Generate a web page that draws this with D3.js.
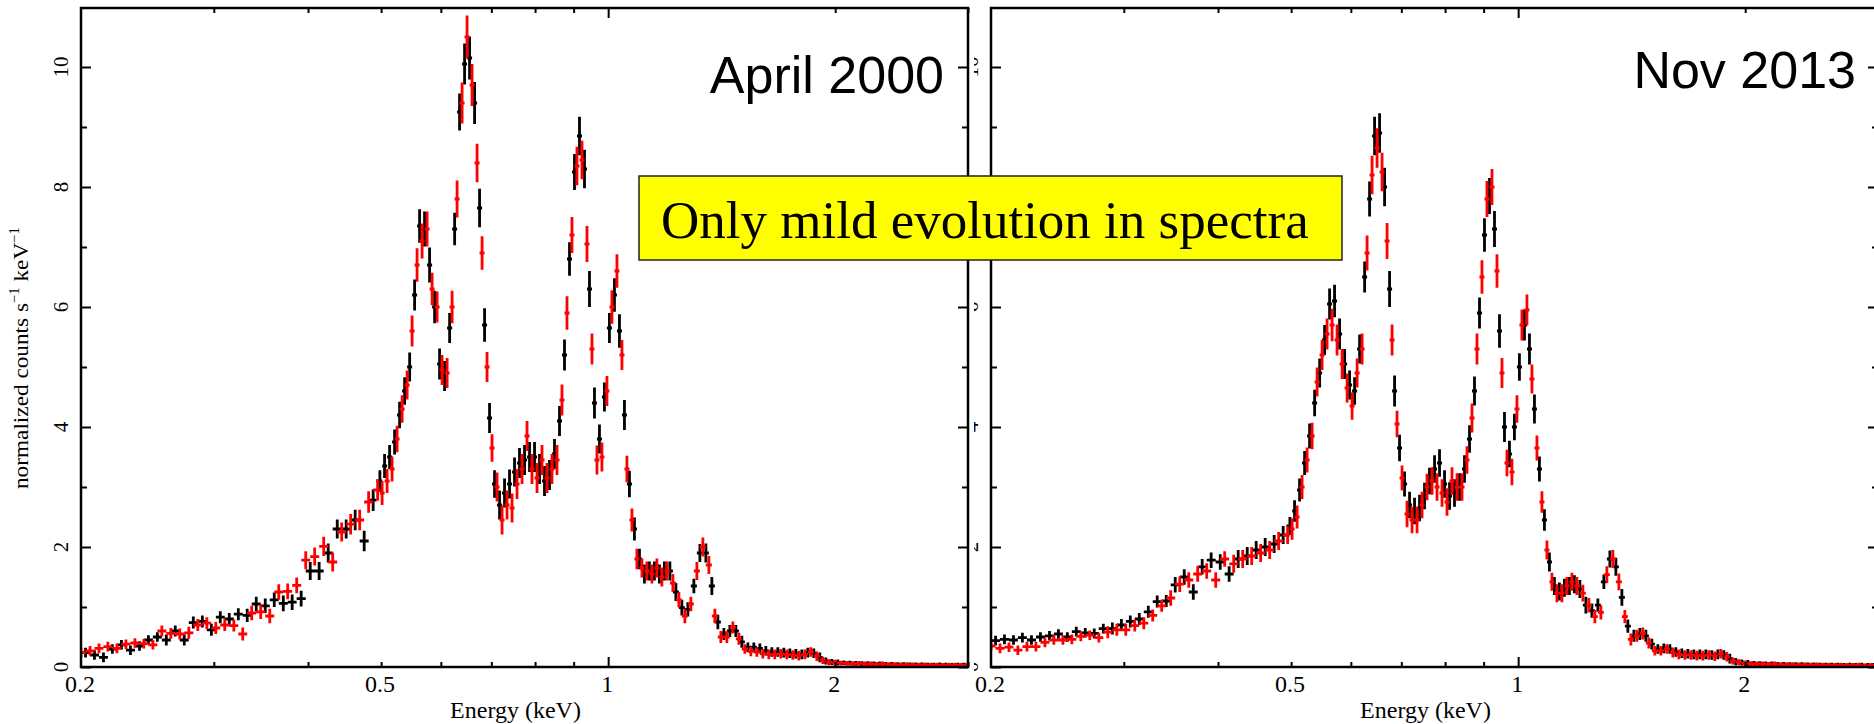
<!DOCTYPE html>
<html>
<head>
<meta charset="utf-8">
<script src="https://cdn.jsdelivr.net/npm/d3@7"></script>
<style>
  body { margin: 0; background: #fff; }
  svg { display: block; }
</style>
</head>
<body>
<svg id="chart" width="1874" height="724"></svg>
<script>
// Channel energies (keV), bin centres of the red spectra
const redEnergyKeV = [
  0.2000,0.2056,0.2113,0.2171,0.2232,0.2294,0.2358,0.2423,0.2491,0.2560,0.2631,0.2704,0.2780,0.2857,0.2937,0.3018,0.3102,0.3189,0.3277,0.3368,0.3462,0.3559,0.3658,0.3759,0.3864,0.3972,0.4082,0.4196,0.4313,0.4433,0.4556,0.4683,0.4813,0.4947,
  0.5015,0.5092,0.5170,0.5250,0.5331,0.5413,0.5496,0.5580,0.5666,0.5753,0.5842,0.5932,0.6023,0.6116,0.6210,0.6305,0.6402,0.6500,0.6600,0.6702,0.6805,0.6909,0.7015,0.7123,0.7233,0.7344,0.7457,0.7571,0.7688,0.7806,0.7926,0.8048,0.8171,0.8297,0.8424,0.8554,0.8685,0.8819,0.8954,0.9092,0.9232,0.9374,0.9518,0.9664,0.9812,0.9963,1.0116,1.0272,1.0430,1.0590,1.0753,1.0918,1.1086,1.1256,1.1429,1.1605,1.1783,1.1964,
  1.2185,1.2410,1.2639,1.2873,1.3111,1.3353,1.3600,1.3851,1.4107,1.4368,1.4633,1.4903,1.5179,1.5459,1.5745,1.6036,1.6332,1.6634,1.6941,1.7254,1.7573,1.7897,1.8228,1.8565,1.8908,1.9257,1.9613,1.9975,2.0344,2.0720,2.1103,2.1493,2.1890,2.2294,2.2706,2.3126,2.3553,2.3988,2.4431,2.4883,2.5342,2.5811,2.6287,2.6773,2.7268,2.7771,2.8284,2.8807,2.9339,2.9881
];
// Channel energies (keV), bin centres of the black spectra
const blackEnergyKeV = [
  0.2028,0.2084,0.2142,0.2201,0.2263,0.2326,0.2391,0.2457,0.2525,0.2595,0.2667,0.2741,0.2818,0.2897,0.2978,0.3060,0.3145,0.3233,0.3322,0.3415,0.3510,0.3608,0.3709,0.3811,0.3917,0.4027,0.4138,0.4254,0.4373,0.4494,0.4619,0.4748,0.4880,0.4981,
  0.5053,0.5131,0.5210,0.5290,0.5372,0.5455,0.5538,0.5623,0.5709,0.5797,0.5887,0.5977,0.6069,0.6163,0.6258,0.6353,0.6451,0.6550,0.6651,0.6753,0.6857,0.6962,0.7069,0.7178,0.7288,0.7400,0.7514,0.7629,0.7747,0.7866,0.7987,0.8110,0.8234,0.8361,0.8489,0.8620,0.8752,0.8887,0.9023,0.9162,0.9303,0.9446,0.9591,0.9738,0.9887,1.0039,1.0194,1.0351,1.0510,1.0671,1.0835,1.1002,1.1171,1.1342,1.1517,1.1694,1.1873,1.2074,
  1.2297,1.2524,1.2755,1.2991,1.3232,1.3476,1.3725,1.3978,1.4237,1.4500,1.4768,1.5040,1.5319,1.5601,1.5890,1.6183,1.6482,1.6787,1.7097,1.7413,1.7735,1.8062,1.8396,1.8736,1.9082,1.9434,1.9793,2.0159,2.0531,2.0910,2.1297,2.1691,2.2091,2.2499,2.2915,2.3339,2.3769,2.4208,2.4656,2.5112,2.5575,2.6048,2.6529,2.7019,2.7519,2.8026,2.8544,2.9072,2.9609,3.0156
];

// April 2000 spectra (normalized counts s^-1 keV^-1)
const april2000Black = [
  0.24,0.20,0.16,0.30,0.37,0.28,0.35,0.45,0.50,0.45,0.60,0.45,0.74,0.76,0.62,0.83,0.80,0.88,0.86,1.05,1.02,1.12,1.06,1.08,1.14,1.60,1.60,1.90,2.30,2.30,2.45,2.10,2.78,3.10,
  3.35,3.5,3.75,4.2,4.6,5.0,6.2,7.35,7.3,6.7,6.0,5.05,4.85,5.65,7.3,9.25,10.05,10.15,9.4,7.65,5.7,4.15,3.05,2.7,2.9,3.05,3.25,3.4,3.45,3.5,3.5,3.3,3.1,3.2,3.55,4.1,5.2,6.8,8.25,8.85,8.3,6.3,4.4,3.8,4.5,5.65,6.2,5.6,4.2,3.05,2.3,1.8,1.55,1.6,1.6,1.55,1.6,1.6,
  1.25,0.99,0.96,1.35,1.9,1.9,1.35,0.75,0.55,0.6,0.6,0.42,0.33,0.33,0.31,0.27,0.25,0.25,0.24,0.23,0.22,0.21,0.24,0.23,0.16,0.1,0.085,0.075,0.07,0.065,0.06,0.055,0.055,0.05,0.05,0.045,0.045,0.04,0.04,0.035,0.035,0.035,0.03,0.03,0.035,0.03,0.025,0.03,0.03,0.025
];
const april2000Red = [
  0.24,0.27,0.31,0.34,0.31,0.38,0.40,0.39,0.37,0.60,0.56,0.55,0.57,0.70,0.73,0.65,0.70,0.69,0.55,0.90,0.92,0.85,1.25,1.26,1.36,1.78,1.84,2.01,1.75,2.25,2.38,2.45,2.75,2.95,
  2.9,3.1,3.3,3.8,4.3,4.7,5.6,6.7,7.1,7.3,6.3,6.0,4.95,4.9,6.0,7.8,9.4,10.5,9.7,8.4,6.9,5.0,3.65,3.0,2.45,2.7,2.65,3.05,3.3,3.85,3.3,3.15,3.45,3.15,3.3,3.45,4.45,5.9,7.2,8.35,8.45,7.05,5.3,3.45,3.5,4.6,6.0,6.6,5.2,3.3,2.45,1.8,1.65,1.6,1.55,1.65,1.5,1.6,
  1.4,1.12,0.85,1.05,1.6,2.0,1.7,0.85,0.5,0.5,0.66,0.47,0.3,0.26,0.25,0.22,0.21,0.21,0.22,0.21,0.2,0.19,0.21,0.25,0.18,0.11,0.08,0.07,0.065,0.06,0.055,0.06,0.05,0.05,0.045,0.05,0.04,0.04,0.035,0.04,0.035,0.03,0.035,0.03,0.03,0.025,0.03,0.03,0.025,0.03
];
const april2000Err = [
  0.08,0.08,0.08,0.08,0.08,0.08,0.08,0.08,0.08,0.09,0.09,0.09,0.1,0.1,0.1,0.1,0.1,0.1,0.11,0.12,0.12,0.12,0.13,0.13,0.13,0.15,0.15,0.16,0.16,0.16,0.17,0.17,0.18,0.18,
  0.2,0.2,0.21,0.22,0.23,0.24,0.26,0.28,0.29,0.29,0.27,0.26,0.25,0.25,0.27,0.31,0.34,0.36,0.35,0.32,0.28,0.25,0.23,0.24,0.24,0.24,0.24,0.25,0.25,0.25,0.25,0.25,0.25,0.25,0.25,0.25,0.26,0.28,0.3,0.32,0.32,0.3,0.26,0.24,0.24,0.25,0.28,0.28,0.25,0.22,0.19,0.17,0.16,0.16,0.16,0.16,0.16,0.16,
  0.15,0.13,0.12,0.12,0.15,0.16,0.15,0.12,0.1,0.1,0.1,0.1,0.08,0.08,0.08,0.08,0.08,0.08,0.08,0.08,0.08,0.08,0.08,0.08,0.08,0.06,0.05,0.05,0.04,0.04,0.04,0.04,0.04,0.04,0.04,0.04,0.04,0.04,0.04,0.04,0.04,0.04,0.04,0.04,0.04,0.04,0.04,0.04,0.04,0.04
];

// Nov 2013 spectra
const nov2013Black = [
  0.44,0.46,0.45,0.49,0.45,0.50,0.52,0.55,0.50,0.59,0.57,0.56,0.64,0.64,0.70,0.76,0.80,0.92,1.09,1.10,1.37,1.50,1.25,1.67,1.78,1.75,1.55,1.80,1.85,1.95,2.00,2.05,2.20,2.35,
  2.6,2.95,3.4,3.85,4.4,4.9,5.45,6.05,6.1,5.55,5.05,4.7,4.6,5.3,6.5,7.8,8.85,8.9,8.0,6.3,4.6,3.65,3.05,2.7,2.6,2.65,2.85,3.1,3.3,3.4,3.05,2.85,2.9,3.0,3.3,3.8,4.6,5.9,7.2,7.85,7.3,5.6,4.0,3.55,4.0,5.0,5.7,5.3,4.3,3.3,2.45,1.75,1.35,1.26,1.32,1.35,1.38,1.3,
  1.03,0.94,1.03,1.42,1.8,1.67,1.16,0.68,0.52,0.55,0.52,0.38,0.3,0.31,0.3,0.25,0.23,0.22,0.21,0.21,0.21,0.2,0.21,0.2,0.14,0.09,0.075,0.065,0.06,0.055,0.05,0.05,0.045,0.045,0.04,0.04,0.04,0.035,0.035,0.03,0.03,0.03,0.03,0.025,0.03,0.025,0.03,0.025,0.025,0.02
];
const nov2013Red = [
  0.35,0.31,0.33,0.28,0.34,0.34,0.41,0.45,0.45,0.46,0.51,0.53,0.49,0.58,0.62,0.62,0.69,0.73,0.86,1.02,1.15,1.38,1.45,1.55,1.60,1.45,1.80,1.72,1.80,1.85,1.90,1.95,2.10,2.20,
  2.3,2.5,3.0,3.45,3.85,4.75,5.2,5.55,5.7,5.45,5.05,4.65,4.35,4.9,5.3,6.9,8.2,8.65,8.25,7.1,5.45,4.05,3.15,2.55,2.45,2.45,2.7,3.0,3.1,3.0,2.9,2.75,3.1,3.0,3.0,3.45,4.15,5.3,6.5,7.8,8.0,6.6,4.9,3.4,3.25,4.3,5.7,5.95,4.8,3.65,2.75,1.95,1.42,1.23,1.23,1.35,1.42,1.35,
  1.23,1.03,0.84,0.91,1.54,1.8,1.42,0.84,0.46,0.52,0.56,0.4,0.27,0.27,0.3,0.24,0.21,0.2,0.2,0.19,0.19,0.2,0.18,0.22,0.17,0.1,0.08,0.06,0.055,0.05,0.05,0.045,0.05,0.04,0.04,0.04,0.035,0.035,0.03,0.035,0.03,0.03,0.025,0.03,0.025,0.025,0.03,0.02,0.025,0.025
];
const nov2013Err = [
  0.08,0.08,0.08,0.08,0.08,0.08,0.08,0.08,0.08,0.08,0.08,0.08,0.08,0.1,0.1,0.1,0.1,0.1,0.1,0.1,0.13,0.13,0.13,0.13,0.13,0.13,0.13,0.15,0.15,0.15,0.15,0.15,0.15,0.15,
  0.18,0.19,0.2,0.21,0.22,0.24,0.25,0.26,0.27,0.26,0.25,0.24,0.23,0.24,0.26,0.29,0.32,0.33,0.32,0.3,0.26,0.22,0.21,0.22,0.22,0.22,0.22,0.22,0.23,0.23,0.23,0.23,0.23,0.23,0.23,0.23,0.24,0.26,0.28,0.3,0.3,0.28,0.25,0.22,0.22,0.23,0.26,0.26,0.24,0.21,0.18,0.16,0.15,0.15,0.15,0.15,0.15,0.15,
  0.14,0.12,0.11,0.12,0.14,0.15,0.14,0.11,0.1,0.1,0.1,0.09,0.08,0.08,0.08,0.08,0.08,0.08,0.08,0.08,0.08,0.08,0.08,0.08,0.08,0.06,0.05,0.05,0.04,0.04,0.04,0.04,0.04,0.04,0.04,0.04,0.04,0.04,0.04,0.04,0.04,0.04,0.04,0.04,0.04,0.04,0.04,0.04,0.04,0.04
];

// Axis ticks and labels
const xLabelTicks = [0.2, 0.5, 1, 2];
const xMajorTicks = [1];
const xMinorTicks = [0.3, 0.4, 0.5, 0.6, 0.7, 0.8, 0.9, 2, 3];
const yLabelTicks = [0, 2, 4, 6, 8, 10];
const yMinorTicks = [1, 3, 5, 7, 9];
const panelTitles = ["April 2000", "Nov 2013"];
const xAxisTitle = "Energy (keV)";
const noteText = "Only mild evolution in spectra";

const svg = d3.select("#chart");
const SERIF = "'Liberation Serif', 'Times New Roman', serif";
const SANS = "'Liberation Sans', Arial, sans-serif";

const plotTop = 8, plotBottom = 667, plotW = 887;

const panels = [
  { key: "apr", title: panelTitles[0], left: 81, black: april2000Black, red: april2000Red, err: april2000Err, titleX: 944, titleY: 93, yLabel: true },
  { key: "nov", title: panelTitles[1], left: 991, black: nov2013Black, red: nov2013Red, err: nov2013Err, titleX: 1856, titleY: 88, yLabel: false }
];

// Bin edges: geometric midpoints between neighbouring channel energies
function binEdges(en) {
  const n = en.length;
  const lo = en.map((e, i) => i === 0 ? e / Math.sqrt(en[1] / e) : Math.sqrt(en[i - 1] * e));
  const hi = en.map((e, i) => i === n - 1 ? e * Math.sqrt(e / en[n - 2]) : Math.sqrt(e * en[i + 1]));
  return { lo, hi };
}
const redEdges = binEdges(redEnergyKeV);
const blackEdges = binEdges(blackEnergyKeV);

function drawPanel(p, isLeft) {
  const g = svg.append("g").attr("class", "panel-" + p.key);
  const right = p.left + plotW;
  const x = d3.scaleLog().domain([0.2, 3]).range([p.left, right]);
  const y = d3.scaleLinear().domain([0, 11]).range([plotBottom, 7]);

  if (isLeft) {
    // white backing so the neighbouring panel's labels stay hidden
    g.append("rect").attr("x", 0).attr("y", 0).attr("width", right + 6).attr("height", plotBottom + 5).attr("fill", "#fff");
  }

  const clipId = "clip-" + p.key;
  g.append("clipPath").attr("id", clipId)
    .append("rect").attr("x", p.left).attr("y", plotTop).attr("width", plotW).attr("height", plotBottom - plotTop);

  const dataG = g.append("g").attr("clip-path", `url(#${clipId})`);
  const series = [
    { vals: p.black, en: blackEnergyKeV, edges: blackEdges, color: "#000000" },
    { vals: p.red, en: redEnergyKeV, edges: redEdges, color: "#ff0000" }
  ];
  series.forEach(s => {
    const path = d3.path();
    s.vals.forEach((v, i) => {
      const e = p.err[i];
      const yv = y(v);
      path.moveTo(x(s.edges.lo[i]), yv);
      path.lineTo(x(s.edges.hi[i]), yv);
      const xc = x(s.en[i]);
      path.moveTo(xc, y(v + e));
      path.lineTo(xc, y(Math.max(v - e, -0.2)));
    });
    dataG.append("path").attr("d", path.toString())
      .attr("fill", "none").attr("stroke", s.color).attr("stroke-width", 2.8);
  });

  // axes with inward ticks
  const tickStyle = sel => {
    sel.select(".domain").remove();
    sel.selectAll(".tick line").attr("stroke", "#000").attr("stroke-width", 2);
    sel.selectAll(".tick text").remove();
  };
  const axes = [
    [d3.axisBottom(x).tickValues(xMajorTicks).tickSize(-10), `translate(0,${plotBottom})`],
    [d3.axisBottom(x).tickValues(xMinorTicks).tickSize(-5), `translate(0,${plotBottom})`],
    [d3.axisTop(x).tickValues(xMajorTicks).tickSize(-10), `translate(0,${plotTop})`],
    [d3.axisTop(x).tickValues(xMinorTicks).tickSize(-5), `translate(0,${plotTop})`],
    [d3.axisLeft(y).tickValues(yLabelTicks).tickSize(-10), `translate(${p.left},0)`],
    [d3.axisLeft(y).tickValues(yMinorTicks).tickSize(-6), `translate(${p.left},0)`],
    [d3.axisRight(y).tickValues(yLabelTicks).tickSize(-10), `translate(${right},0)`],
    [d3.axisRight(y).tickValues(yMinorTicks).tickSize(-6), `translate(${right},0)`]
  ];
  axes.forEach(([ax, tr]) => g.append("g").attr("transform", tr).call(ax).call(tickStyle));

  // frame
  g.append("rect").attr("x", p.left).attr("y", plotTop).attr("width", plotW).attr("height", plotBottom - plotTop)
    .attr("fill", "none").attr("stroke", "#000").attr("stroke-width", 2.5);

  // tick labels
  g.selectAll("text.xl").data(xLabelTicks).join("text").attr("class", "xl")
    .attr("x", d => x(d) - 1).attr("y", 692)
    .attr("text-anchor", "middle").attr("font-family", SERIF).attr("font-size", 24)
    .text(d => d);
  g.selectAll("text.yl").data(yLabelTicks).join("text").attr("class", "yl")
    .attr("transform", d => `translate(${p.left - 13},${y(d)}) rotate(-90)`)
    .attr("text-anchor", "middle").attr("font-family", SERIF).attr("font-size", 21)
    .text(d => d);

  // axis titles
  g.append("text").attr("x", (p.left + right) / 2 - 9).attr("y", 718)
    .attr("text-anchor", "middle").attr("font-family", SERIF).attr("font-size", 24)
    .text(xAxisTitle);
  if (p.yLabel) {
    const t = g.append("text").attr("transform", `translate(28,358) rotate(-90)`)
      .attr("text-anchor", "middle").attr("font-family", SERIF).attr("font-size", 22)
      .attr("textLength", 262).attr("lengthAdjust", "spacingAndGlyphs");
    t.append("tspan").text("normalized counts s");
    t.append("tspan").attr("dy", -9).attr("font-size", 14).text("\u22121");
    t.append("tspan").attr("dy", 9).text(" keV");
    t.append("tspan").attr("dy", -9).attr("font-size", 14).text("\u22121");
  }

  // panel title
  g.append("text").attr("x", p.titleX).attr("y", p.titleY)
    .attr("text-anchor", "end").attr("font-family", SANS).attr("font-size", 52)
    .text(p.title);
}

// right panel first; the left one is laid over its label column
drawPanel(panels[1], false);
drawPanel(panels[0], true);

// annotation box
const note = svg.append("g");
note.append("rect").attr("x", 639).attr("y", 176).attr("width", 703).attr("height", 84)
  .attr("fill", "#ffff00").attr("stroke", "#222").attr("stroke-width", 1.5);
note.append("text").attr("x", 661).attr("y", 238)
  .attr("font-family", SERIF).attr("font-size", 53).text(noteText);
</script>
</body>
</html>
